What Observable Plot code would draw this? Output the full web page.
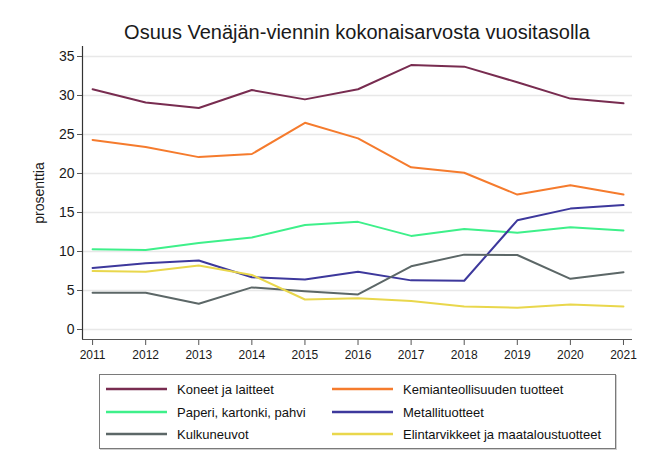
<!DOCTYPE html>
<html>
<head>
<meta charset="utf-8">
<script src="https://cdn.jsdelivr.net/npm/d3@7"></script>
<script src="https://cdn.jsdelivr.net/npm/@observablehq/plot@0.6"></script>
<style>
  html, body { margin: 0; padding: 0; background: #fff; }
  body { position: relative; width: 653px; height: 468px; font-family: "Liberation Sans", Arial, sans-serif; overflow: hidden; }
  #title { height: 40px; box-sizing: border-box; padding: 22px 21px 0 82px; font-size: 20px; line-height: 20px; text-align: center; color: #1a1a1a; white-space: nowrap; }
  #legend { position: absolute; left: 99px; top: 374px; width: 515px; height: 73px; border: 1px solid #7a7a7a; box-shadow: 1px 1px 0 #cfcfcf; background: #fff; }
  .item { position: absolute; height: 20px; display: flex; align-items: center; font-size: 13px; color: #111; white-space: nowrap; }
  .item svg { margin-right: 10px; }
</style>
</head>
<body>
<div id="title">Osuus Venäjän-viennin kokonaisarvosta vuositasolla</div>
<div id="chart"></div>
<div id="legend"></div>
<script>
const years = [2011, 2012, 2013, 2014, 2015, 2016, 2017, 2018, 2019, 2020, 2021];
const seriesNames = [
  "Koneet ja laitteet",
  "Kemianteollisuuden tuotteet",
  "Paperi, kartonki, pahvi",
  "Metallituotteet",
  "Kulkuneuvot",
  "Elintarvikkeet ja maataloustuotteet"
];
const seriesColors = ["#782c50", "#f57b2d", "#3ef08a", "#3d389c", "#5c6767", "#e9d74c"];
const koneet    = [30.8, 29.1, 28.4, 30.7, 29.5, 30.8, 33.9, 33.7, 31.7, 29.6, 29.0];
const kemia     = [24.3, 23.4, 22.1, 22.5, 26.5, 24.5, 20.8, 20.1, 17.3, 18.5, 17.3];
const paperi    = [10.3, 10.2, 11.1, 11.8, 13.4, 13.8, 12.0, 12.9, 12.4, 13.1, 12.7];
const metalli   = [7.9, 8.5, 8.85, 6.7, 6.4, 7.4, 6.3, 6.25, 14.0, 15.5, 15.95];
const kulku     = [4.7, 4.7, 3.3, 5.4, 4.9, 4.5, 8.1, 9.6, 9.55, 6.5, 7.35];
const elintarv  = [7.5, 7.4, 8.2, 7.0, 3.85, 4.0, 3.65, 2.95, 2.8, 3.2, 2.95];
const seriesValues = [koneet, kemia, paperi, metalli, kulku, elintarv];
const yTicks = [0, 5, 10, 15, 20, 25, 30, 35];

const data = [];
seriesNames.forEach((name, i) => {
  years.forEach((yr, j) => data.push({series: name, year: yr, value: seriesValues[i][j]}));
});

const xDomain = [2010.81, 2021.17];
const yDomain = [-1.28, 36.28];

const chart = Plot.plot({
  width: 653,
  height: 329,
  marginTop: 6,
  marginBottom: 30,
  marginLeft: 82,
  marginRight: 21,
  style: {fontFamily: "'Liberation Sans', Arial, sans-serif", fontSize: "12px", color: "#222", background: "#fff"},
  x: {domain: xDomain},
  y: {domain: yDomain},
  color: {domain: seriesNames, range: seriesColors},
  marks: [
    Plot.gridY(yTicks, {stroke: "#e8e8e8", strokeOpacity: 1, strokeWidth: 1.5}),
    Plot.axisY(yTicks, {tickSize: 5, tickPadding: 3, stroke: "#555", fill: "#1a1a1a", fontSize: 14,
      label: "prosenttia", labelAnchor: "center", labelArrow: "none", labelOffset: 48}),
    Plot.axisX(years, {tickSize: 6, tickPadding: 5, stroke: "#555", fill: "#1a1a1a", fontSize: 12,
      label: null, tickFormat: d => String(d)}),
    Plot.ruleX([xDomain[0]], {stroke: "#333", strokeWidth: 1.2}),
    Plot.ruleY([yDomain[0]], {stroke: "#555", strokeWidth: 1.2}),
    Plot.line(data, {x: "year", y: "value", z: "series", stroke: "series", strokeWidth: 2, strokeLinejoin: "round"})
  ]
});
document.getElementById("chart").appendChild(chart);

// legend
const legend = document.getElementById("legend");
const colLeft = [6, 232];
const rowTop = [4, 27, 49];
seriesNames.forEach((name, i) => {
  const col = i % 2, row = Math.floor(i / 2);
  const div = document.createElement("div");
  div.className = "item";
  div.style.left = colLeft[col] + "px";
  div.style.top = rowTop[row] + "px";
  div.innerHTML = `<svg width="61" height="4"><line x1="0" x2="61" y1="2" y2="2" stroke="${seriesColors[i]}" stroke-width="2.5"/></svg><span>${name}</span>`;
  legend.appendChild(div);
});
</script>
</body>
</html>
